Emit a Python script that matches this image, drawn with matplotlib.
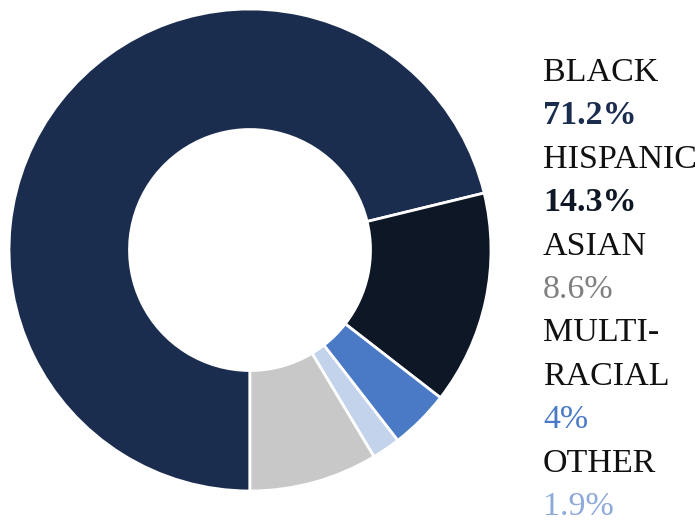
import matplotlib
matplotlib.use("Agg")
import matplotlib.pyplot as plt

# slices in drawing order (clockwise from 6 o'clock)
groups = ["BLACK", "HISPANIC", "MULTI-RACIAL", "OTHER", "ASIAN"]
shares = [71.2, 14.3, 4.0, 1.9, 8.6]
slice_colors = ["#1b2d4f", "#0d1726", "#4a7ac6", "#c3d3ec", "#c8c8c8"]

# legend text on the right, top to bottom
legend_names = ["BLACK", "HISPANIC", "ASIAN", "MULTI-\nRACIAL", "OTHER"]
legend_pcts = ["71.2%", "14.3%", "8.6%", "4%", "1.9%"]
pct_colors = ["#1b2d4f", "#0d1726", "#808080", "#4a7ac6", "#8eaadb"]
pct_weights = ["bold", "bold", "normal", "normal", "normal"]

W, H = 699, 526
fig = plt.figure(figsize=(W / 100, H / 100), dpi=100)

ax = fig.add_axes([9 / W, 1 - 492 / H, 482 / W, 484 / H])
ax.pie(shares, colors=slice_colors, startangle=270, counterclock=False,
       radius=1.0, wedgeprops=dict(width=0.5, edgecolor="white", linewidth=2))
ax.set_xlim(-1.0, 1.0)
ax.set_ylim(-1.0, 1.0)
ax.set_aspect("equal")
ax.axis("off")

x0 = 543 / W
step = 43.4
line = 0
for name, pct, col, wt in zip(legend_names, legend_pcts, pct_colors, pct_weights):
    for part in name.split("\n"):
        fig.text(x0, 1 - (81 + step * line) / H, part, family="Liberation Serif",
                 fontsize=24.5, color="#111111", va="baseline", ha="left")
        line += 1
    fig.text(x0, 1 - (81 + step * line) / H, pct, family="Liberation Serif",
             fontsize=24.5, color=col, fontweight=wt, va="baseline", ha="left")
    line += 1

fig.savefig("out.png", dpi=100)
